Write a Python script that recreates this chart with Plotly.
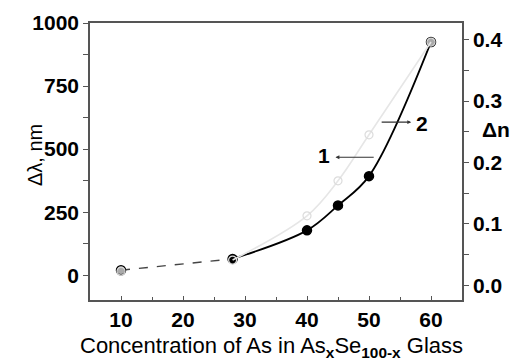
import plotly.graph_objects as go

# Data
conc = [10, 28, 40, 45, 50, 60]
dlambda = [20, 65, 178, 277, 393, 925]          # series 1, left axis (nm)
dn = [0.023, 0.041, 0.113, 0.170, 0.245, 0.396]  # series 2, right axis

FONT = "Liberation Sans"

fig = go.Figure()

# series 2 (light gray, right axis)
fig.add_trace(go.Scatter(x=conc[1:], y=dn[1:], yaxis="y2", mode="lines",
                         line=dict(color="#e6e6e6", width=1.6, shape="spline"),
                         showlegend=False, hoverinfo="skip"))
fig.add_trace(go.Scatter(x=conc, y=dn, yaxis="y2", mode="markers",
                         marker=dict(symbol="circle-open", size=8, color="#dcdcdc",
                                     line=dict(width=1.2)),
                         showlegend=False))

# series 1 (black, left axis)
fig.add_trace(go.Scatter(x=conc[:2], y=dlambda[:2], mode="lines",
                         line=dict(color="#444", width=1.4, dash="dash"),
                         showlegend=False, hoverinfo="skip"))
fig.add_trace(go.Scatter(x=conc[1:], y=dlambda[1:], mode="lines",
                         line=dict(color="black", width=1.8, shape="spline", smoothing=1.0),
                         showlegend=False, hoverinfo="skip"))
fig.add_trace(go.Scatter(x=conc, y=dlambda, mode="markers",
                         marker=dict(symbol="circle", size=9,
                                     color=["#aaa", "black", "black", "black", "black", "#aaa"],
                                     line=dict(color="black", width=1.5)),
                         showlegend=False))

tickfont = dict(family=FONT, size=21, color="black", weight="bold")
axcol = "#555"

fig.update_layout(
    width=523, height=355,
    margin=dict(l=82, r=69, t=15, b=63),
    plot_bgcolor="white", paper_bgcolor="white",
    xaxis=dict(range=[5, 65], dtick=10, tick0=10, ticks="inside", ticklen=4,
               tickcolor=axcol, tickwidth=1.2, automargin=False,
               minor=dict(dtick=5, ticks="inside", ticklen=3, tickcolor=axcol),
               showline=True, linecolor=axcol, linewidth=1.5, mirror=True,
               showgrid=False, zeroline=False, tickfont=tickfont),
    yaxis=dict(range=[-98, 1000], dtick=250, tick0=0, ticks="outside", ticklen=5,
               tickcolor=axcol, tickwidth=1.2, automargin=False,
               minor=dict(dtick=125, ticks="outside", ticklen=5, tickcolor=axcol),
               showline=True, linecolor=axcol, linewidth=1.5,
               showgrid=False, zeroline=False, tickfont=tickfont),
    yaxis2=dict(range=[-0.024, 0.427], dtick=0.1, tick0=0, tickformat=".1f",
                overlaying="y", side="right", ticks="outside", ticklen=5,
                tickcolor=axcol, tickwidth=1.2, automargin=False,
                minor=dict(dtick=0.05, ticks="outside", ticklen=5, tickcolor=axcol),
                showline=True, linecolor=axcol, linewidth=1.5,
                showgrid=False, zeroline=False, tickfont=tickfont),
)

labfont = dict(family=FONT, size=22, color="black")
fig.add_annotation(text="Concentration of As in As<sub><b>x</b></sub>Se<sub><b>100-x</b></sub> Glass",
                   xref="paper", yref="paper", x=0.489, y=-0.168,
                   showarrow=False, font=labfont, yanchor="middle")
fig.add_annotation(text="Δλ, nm", xref="paper", yref="paper", x=-0.183, y=0.523,
                   textangle=-90, showarrow=False, font=dict(family=FONT, size=20, color="black"))
fig.add_annotation(text="<b>Δn</b>", xref="paper", yref="paper", x=1.134, y=0.614,
                   showarrow=False, font=dict(family=FONT, size=21, color="black"))

# curve labels with arrows
fig.add_annotation(x=44.6, y=468, ax=51.0, ay=468, xref="x", yref="y",
                   axref="x", ayref="y", text="", showarrow=True,
                   arrowhead=2, arrowsize=0.7, arrowwidth=1.1, arrowcolor="#333")
fig.add_annotation(x=56.8, y=607, ax=51.8, ay=607, xref="x", yref="y",
                   axref="x", ayref="y", text="", showarrow=True,
                   arrowhead=2, arrowsize=0.7, arrowwidth=1.1, arrowcolor="#333")
fig.add_annotation(x=42.8, y=476, xref="x", yref="y", text="<b>1</b>",
                   showarrow=False, font=dict(family=FONT, size=21, color="black"))
fig.add_annotation(x=58.5, y=602, xref="x", yref="y", text="<b>2</b>",
                   showarrow=False, font=dict(family=FONT, size=21, color="black"))

fig.write_html("out.html")
